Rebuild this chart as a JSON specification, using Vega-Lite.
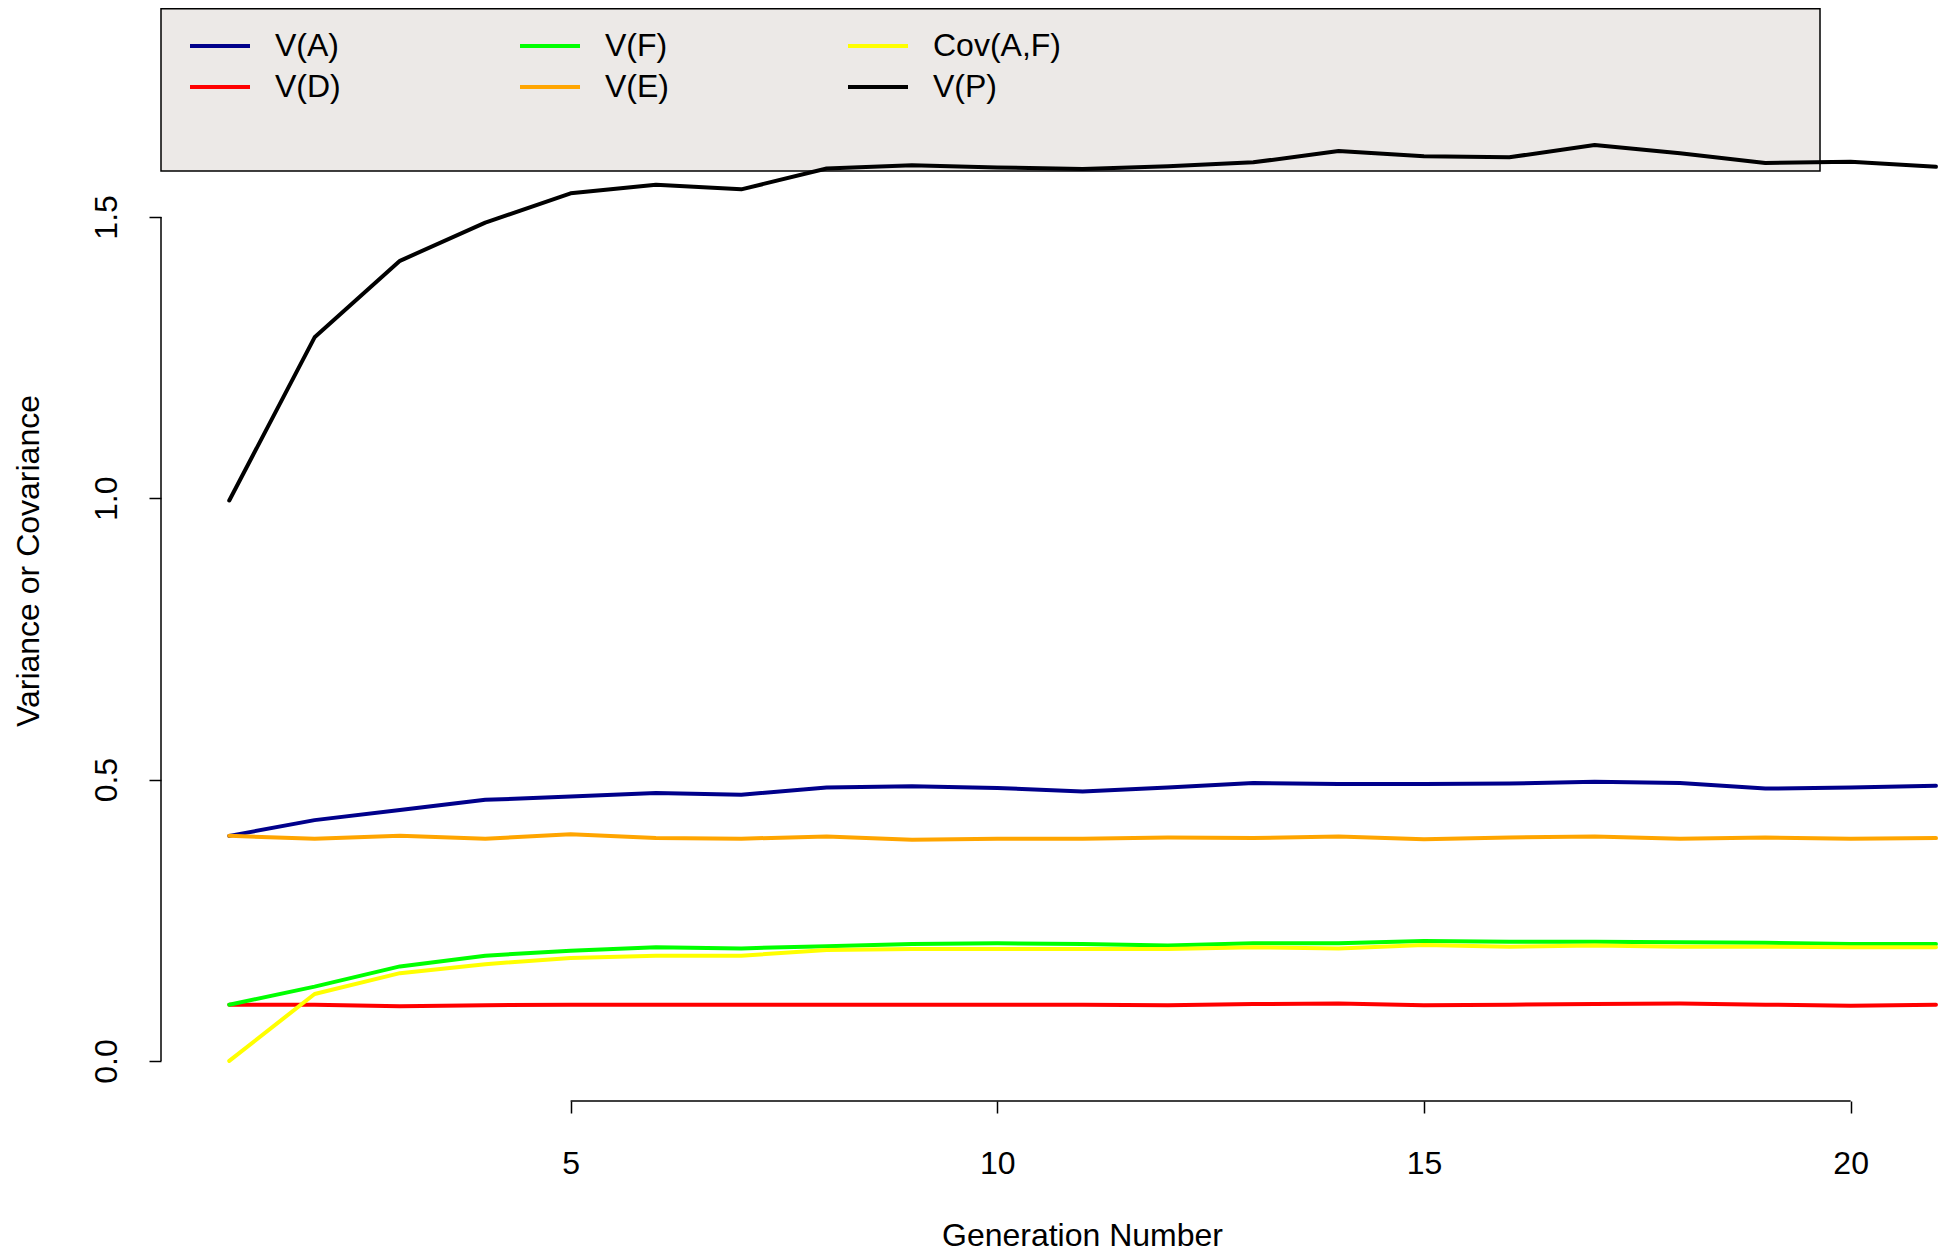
{
 "$schema": "https://vega.github.io/schema/vega-lite/v6.json",
 "width": 1783,
 "height": 1081,
 "autosize": {"type": "none"},
 "padding": {"left": 161, "top": 20, "right": 0, "bottom": 152},
 "background": "white",
 "config": {"view": {"stroke": null}, "font": "Liberation Sans"},
 "data": {"values": [{}]},
 "layer": [
  {
   "mark": {"type": "rect", "fill": "#ECE9E7", "stroke": "black", "strokeWidth": 1.5},
   "encoding": {
    "x": {"datum": 0.2, "type": "quantitative", "scale": {"domain": [0.2, 21.094], "nice": false, "zero": false}},
    "x2": {"datum": 19.641},
    "y": {"datum": 1.8701, "type": "quantitative", "scale": {"domain": [-0.0712, 1.85], "nice": false, "zero": false}},
    "y2": {"datum": 1.5817}
   }
  },
  {
   "data": {"values": [
    {"gen":1,"series":"V(A)","value":0.400},{"gen":2,"series":"V(A)","value":0.428},{"gen":3,"series":"V(A)","value":0.446},{"gen":4,"series":"V(A)","value":0.464},{"gen":5,"series":"V(A)","value":0.470},{"gen":6,"series":"V(A)","value":0.476},{"gen":7,"series":"V(A)","value":0.473},{"gen":8,"series":"V(A)","value":0.486},{"gen":9,"series":"V(A)","value":0.488},{"gen":10,"series":"V(A)","value":0.485},{"gen":11,"series":"V(A)","value":0.479},{"gen":12,"series":"V(A)","value":0.486},{"gen":13,"series":"V(A)","value":0.494},{"gen":14,"series":"V(A)","value":0.492},{"gen":15,"series":"V(A)","value":0.492},{"gen":16,"series":"V(A)","value":0.493},{"gen":17,"series":"V(A)","value":0.496},{"gen":18,"series":"V(A)","value":0.494},{"gen":19,"series":"V(A)","value":0.484},{"gen":20,"series":"V(A)","value":0.486},{"gen":21,"series":"V(A)","value":0.489},
    {"gen":1,"series":"V(D)","value":0.100},{"gen":2,"series":"V(D)","value":0.100},{"gen":3,"series":"V(D)","value":0.097},{"gen":4,"series":"V(D)","value":0.099},{"gen":5,"series":"V(D)","value":0.100},{"gen":6,"series":"V(D)","value":0.100},{"gen":7,"series":"V(D)","value":0.100},{"gen":8,"series":"V(D)","value":0.100},{"gen":9,"series":"V(D)","value":0.100},{"gen":10,"series":"V(D)","value":0.100},{"gen":11,"series":"V(D)","value":0.100},{"gen":12,"series":"V(D)","value":0.099},{"gen":13,"series":"V(D)","value":0.101},{"gen":14,"series":"V(D)","value":0.102},{"gen":15,"series":"V(D)","value":0.099},{"gen":16,"series":"V(D)","value":0.100},{"gen":17,"series":"V(D)","value":0.101},{"gen":18,"series":"V(D)","value":0.102},{"gen":19,"series":"V(D)","value":0.100},{"gen":20,"series":"V(D)","value":0.098},{"gen":21,"series":"V(D)","value":0.100},
    {"gen":1,"series":"V(F)","value":0.100},{"gen":2,"series":"V(F)","value":0.132},{"gen":3,"series":"V(F)","value":0.168},{"gen":4,"series":"V(F)","value":0.187},{"gen":5,"series":"V(F)","value":0.196},{"gen":6,"series":"V(F)","value":0.202},{"gen":7,"series":"V(F)","value":0.200},{"gen":8,"series":"V(F)","value":0.204},{"gen":9,"series":"V(F)","value":0.208},{"gen":10,"series":"V(F)","value":0.209},{"gen":11,"series":"V(F)","value":0.208},{"gen":12,"series":"V(F)","value":0.205},{"gen":13,"series":"V(F)","value":0.209},{"gen":14,"series":"V(F)","value":0.209},{"gen":15,"series":"V(F)","value":0.213},{"gen":16,"series":"V(F)","value":0.212},{"gen":17,"series":"V(F)","value":0.212},{"gen":18,"series":"V(F)","value":0.211},{"gen":19,"series":"V(F)","value":0.210},{"gen":20,"series":"V(F)","value":0.208},{"gen":21,"series":"V(F)","value":0.208},
    {"gen":1,"series":"V(E)","value":0.400},{"gen":2,"series":"V(E)","value":0.395},{"gen":3,"series":"V(E)","value":0.400},{"gen":4,"series":"V(E)","value":0.395},{"gen":5,"series":"V(E)","value":0.403},{"gen":6,"series":"V(E)","value":0.396},{"gen":7,"series":"V(E)","value":0.395},{"gen":8,"series":"V(E)","value":0.399},{"gen":9,"series":"V(E)","value":0.393},{"gen":10,"series":"V(E)","value":0.395},{"gen":11,"series":"V(E)","value":0.395},{"gen":12,"series":"V(E)","value":0.397},{"gen":13,"series":"V(E)","value":0.396},{"gen":14,"series":"V(E)","value":0.399},{"gen":15,"series":"V(E)","value":0.394},{"gen":16,"series":"V(E)","value":0.397},{"gen":17,"series":"V(E)","value":0.399},{"gen":18,"series":"V(E)","value":0.395},{"gen":19,"series":"V(E)","value":0.397},{"gen":20,"series":"V(E)","value":0.395},{"gen":21,"series":"V(E)","value":0.396},
    {"gen":1,"series":"Cov(A,F)","value":0.000},{"gen":2,"series":"Cov(A,F)","value":0.119},{"gen":3,"series":"Cov(A,F)","value":0.156},{"gen":4,"series":"Cov(A,F)","value":0.172},{"gen":5,"series":"Cov(A,F)","value":0.183},{"gen":6,"series":"Cov(A,F)","value":0.187},{"gen":7,"series":"Cov(A,F)","value":0.187},{"gen":8,"series":"Cov(A,F)","value":0.197},{"gen":9,"series":"Cov(A,F)","value":0.199},{"gen":10,"series":"Cov(A,F)","value":0.199},{"gen":11,"series":"Cov(A,F)","value":0.199},{"gen":12,"series":"Cov(A,F)","value":0.199},{"gen":13,"series":"Cov(A,F)","value":0.202},{"gen":14,"series":"Cov(A,F)","value":0.200},{"gen":15,"series":"Cov(A,F)","value":0.206},{"gen":16,"series":"Cov(A,F)","value":0.203},{"gen":17,"series":"Cov(A,F)","value":0.205},{"gen":18,"series":"Cov(A,F)","value":0.203},{"gen":19,"series":"Cov(A,F)","value":0.203},{"gen":20,"series":"Cov(A,F)","value":0.202},{"gen":21,"series":"Cov(A,F)","value":0.202},
    {"gen":1,"series":"V(P)","value":0.996},{"gen":2,"series":"V(P)","value":1.286},{"gen":3,"series":"V(P)","value":1.422},{"gen":4,"series":"V(P)","value":1.490},{"gen":5,"series":"V(P)","value":1.542},{"gen":6,"series":"V(P)","value":1.557},{"gen":7,"series":"V(P)","value":1.549},{"gen":8,"series":"V(P)","value":1.586},{"gen":9,"series":"V(P)","value":1.592},{"gen":10,"series":"V(P)","value":1.588},{"gen":11,"series":"V(P)","value":1.585},{"gen":12,"series":"V(P)","value":1.590},{"gen":13,"series":"V(P)","value":1.597},{"gen":14,"series":"V(P)","value":1.617},{"gen":15,"series":"V(P)","value":1.608},{"gen":16,"series":"V(P)","value":1.606},{"gen":17,"series":"V(P)","value":1.628},{"gen":18,"series":"V(P)","value":1.613},{"gen":19,"series":"V(P)","value":1.596},{"gen":20,"series":"V(P)","value":1.598},{"gen":21,"series":"V(P)","value":1.589}
   ]},
   "mark": {"type": "line", "strokeWidth": 4, "strokeJoin": "round", "strokeCap": "round"},
   "encoding": {
    "x": {"field": "gen", "type": "quantitative", "scale": {"domain": [0.2, 21.094], "nice": false, "zero": false},
     "axis": {"values": [5, 10, 15, 20], "format": "d", "title": "Generation Number", "domain": false, "grid": false,
      "ticks": true, "tickSize": 12, "tickWidth": 1.5, "tickColor": "black",
      "labelFont": "Liberation Sans", "labelFontSize": 32, "labelColor": "black", "labelBaseline": "alphabetic", "labelPadding": 60.5, "labelFlush": false, "labelOverlap": false,
      "titleFont": "Liberation Sans", "titleFontSize": 32, "titleFontWeight": "normal", "titleColor": "black", "titleX": 921, "titleY": 144, "titleAlign": "center", "titleBaseline": "alphabetic"}},
    "y": {"field": "value", "type": "quantitative", "scale": {"domain": [-0.0712, 1.85], "nice": false, "zero": false},
     "axis": {"values": [0, 0.5, 1, 1.5], "format": ".1f", "title": "Variance or Covariance", "domain": false, "grid": false,
      "ticks": true, "tickSize": 12, "tickWidth": 1.5, "tickColor": "black",
      "labelFont": "Liberation Sans", "labelFontSize": 32, "labelColor": "black", "labelAngle": 270, "labelAlign": "center", "labelBaseline": "alphabetic", "labelPadding": 32.5, "labelFlush": false, "labelOverlap": false,
      "titleFont": "Liberation Sans", "titleFontSize": 32, "titleFontWeight": "normal", "titleColor": "black", "titleAngle": 270, "titleX": -122.5, "titleY": 540.5, "titleAlign": "center", "titleBaseline": "alphabetic"}},
    "color": {"field": "series", "type": "nominal",
     "scale": {"domain": ["V(A)", "V(D)", "V(F)", "V(E)", "Cov(A,F)", "V(P)"], "range": ["#00008B", "#FF0000", "#00FF00", "#FFA500", "#FFFF00", "#000000"]},
     "legend": {"orient": "none", "legendX": 27, "legendY": 16, "columns": 3, "title": null, "padding": 0,
      "symbolType": "stroke", "symbolSize": 3600, "symbolStrokeWidth": 4, "clipHeight": 20, "rowPadding": 9, "columnPadding": 177,
      "labelOffset": 23, "labelFont": "Liberation Sans", "labelFontSize": 32, "labelColor": "black", "labelBaseline": "middle", "labelLimit": 400}}
   }
  },
  {
   "mark": {"type": "rule", "stroke": "black", "strokeWidth": 1.5},
   "encoding": {
    "x": {"datum": 5, "type": "quantitative", "scale": {"domain": [0.2, 21.094], "nice": false, "zero": false}},
    "x2": {"datum": 20},
    "y": {"datum": -0.0712, "type": "quantitative", "scale": {"domain": [-0.0712, 1.85], "nice": false, "zero": false}}
   }
  },
  {
   "mark": {"type": "rule", "stroke": "black", "strokeWidth": 1.5},
   "encoding": {
    "x": {"datum": 0.2, "type": "quantitative", "scale": {"domain": [0.2, 21.094], "nice": false, "zero": false}},
    "y": {"datum": 0, "type": "quantitative", "scale": {"domain": [-0.0712, 1.85], "nice": false, "zero": false}},
    "y2": {"datum": 1.5}
   }
  }
 ]
}
